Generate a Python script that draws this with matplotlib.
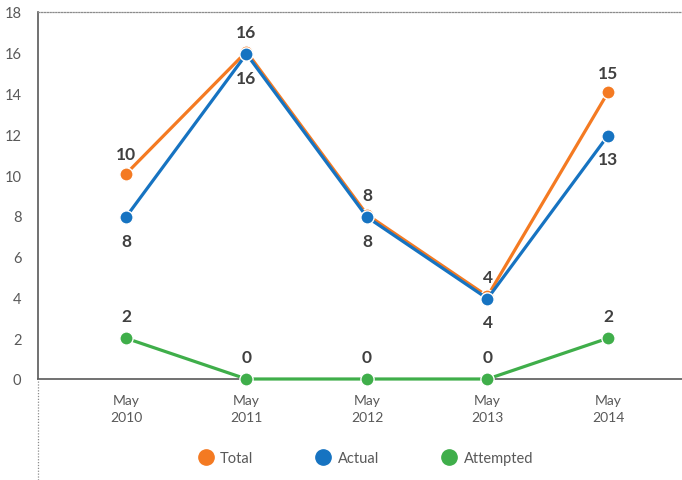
import matplotlib
matplotlib.use("Agg")
import matplotlib.pyplot as plt
import matplotlib.transforms as mtransforms
from matplotlib.lines import Line2D

categories = ["May\n2010", "May\n2011", "May\n2012", "May\n2013", "May\n2014"]
total = [10, 16, 8, 4, 14]
actual = [8, 16, 8, 4, 12]
attempted = [2, 0, 0, 0, 2]
total_labels = ["10", "16", "8", "4", "15"]
actual_labels = ["8", "16", "8", "4", "13"]
attempted_labels = ["2", "0", "0", "0", "2"]
yticks = [0, 2, 4, 6, 8, 10, 12, 14, 16, 18]

c_total = "#F47A22"
c_actual = "#1673C1"
c_att = "#3FAE4A"
tick_col = "#595959"
lab_col = "#404040"

plt.rcParams['font.family'] = ['Lato', 'DejaVu Sans']

W, H = 682, 481
fig = plt.figure(figsize=(W/100, H/100), dpi=100)
ax = fig.add_axes([38/W, 101/H, 644/W, 367/H])

x = list(range(len(categories)))
ax.set_xlim(-0.730, 4.614)
ax.set_ylim(0, 18)

series = [(total, c_total, "Total", 1.2), (actual, c_actual, "Actual", -1.2), (attempted, c_att, "Attempted", 0)]
for vals, col, name, off in series:
    tr = ax.transData + mtransforms.ScaledTranslation(0, off/100, fig.dpi_scale_trans)
    ax.plot(x, vals, color=col, lw=2.3, marker="o", ms=9.5, mfc=col,
            mec="white", mew=1.0, label=name, clip_on=False, zorder=3, transform=tr)

for xi, v, t in zip(x, total, total_labels):
    ax.annotate(t, (xi, v), xytext=(0, 15), textcoords="offset points",
                ha="center", va="center", fontsize=12.5, fontweight="bold", color=lab_col)
for xi, v, t in zip(x, actual, actual_labels):
    ax.annotate(t, (xi, v), xytext=(0, -18), textcoords="offset points",
                ha="center", va="center", fontsize=12.5, fontweight="bold", color=lab_col)
for xi, v, t in zip(x, attempted, attempted_labels):
    ax.annotate(t, (xi, v), xytext=(0, 16), textcoords="offset points",
                ha="center", va="center", fontsize=12.5, fontweight="bold", color=lab_col)

ax.set_xticks(x)
ax.set_xticklabels(categories, fontsize=10, color=tick_col, linespacing=1.5)
ax.set_yticks(yticks)
ax.set_yticklabels([str(v) for v in yticks], fontsize=10.5, color=tick_col)
ax.tick_params(axis="both", length=0)
ax.tick_params(axis="x", pad=11)
ax.tick_params(axis="y", pad=12)

ax.spines["right"].set_visible(False)
ax.spines["left"].set_color("#595959")
ax.spines["left"].set_linewidth(1.2)
ax.spines["bottom"].set_color("#595959")
ax.spines["bottom"].set_linewidth(1.2)
ax.spines["top"].set_color("#8c8c8c")
ax.spines["top"].set_linewidth(0.9)
ax.spines["top"].set_linestyle((0, (1, 1.3)))

fig.add_artist(Line2D([38/W, 38/W], [0, 101/H], transform=fig.transFigure,
                      color="#8c8c8c", lw=0.9, ls=(0, (1, 1.3))))

handles = [Line2D([], [], ls="none", marker="o", ms=11, mfc=c, mec=c) for _, c, _, _ in series]
fig.legend(handles, [n for _, _, n, _ in series], loc="center", bbox_to_anchor=(365/W, 1 - 459/H),
           ncol=3, frameon=False, fontsize=10.5, labelcolor=tick_col, handletextpad=0.4,
           columnspacing=4.2, handlelength=1.2)

fig.savefig("out.png", dpi=100)
